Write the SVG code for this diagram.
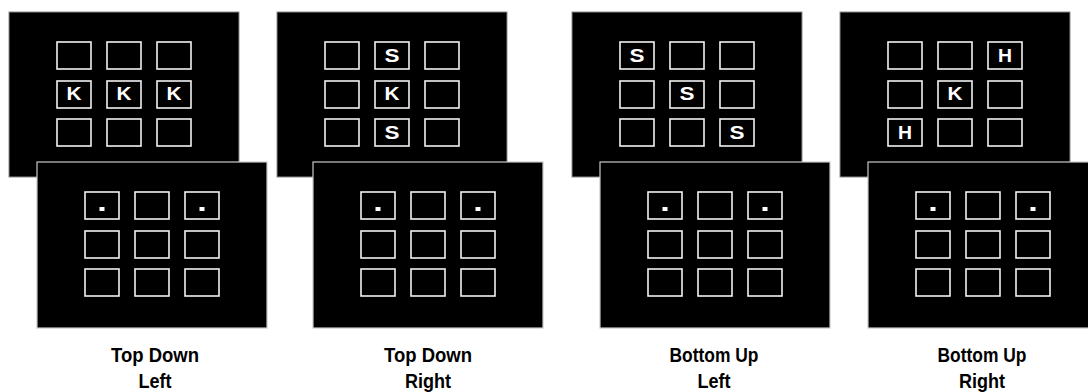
<svg xmlns="http://www.w3.org/2000/svg" xmlns:xlink="http://www.w3.org/1999/xlink" width="1088" height="392" viewBox="0 0 1088 392">
<style>
.top{fill:#000;stroke:#8a8a8a;stroke-width:1}
.bot{fill:#000;stroke:#c8c8c8;stroke-width:1.2}
.box{fill:#000;stroke:#f2f2f2;stroke-width:1.6}
.dot{fill:#fff}
.let{fill:#fff;font-family:"Liberation Sans",Arial,sans-serif;font-weight:bold;font-size:18px;text-anchor:middle}
.lab{fill:#000;font-family:"Liberation Sans",Arial,sans-serif;font-weight:bold;font-size:21px;text-anchor:middle}
</style>
<defs>
<g id="grid">
<rect class="box" x="48" y="30" width="34" height="27"/>
<rect class="box" x="98" y="30" width="34" height="27"/>
<rect class="box" x="148" y="30" width="34" height="27"/>
<rect class="box" x="48" y="69" width="34" height="27"/>
<rect class="box" x="98" y="69" width="34" height="27"/>
<rect class="box" x="148" y="69" width="34" height="27"/>
<rect class="box" x="48" y="107" width="34" height="27"/>
<rect class="box" x="98" y="107" width="34" height="27"/>
<rect class="box" x="148" y="107" width="34" height="27"/>
</g>
<g id="dots">
<rect class="dot" x="62.5" y="45" width="5" height="4"/>
<rect class="dot" x="162.5" y="45" width="5" height="4"/>
</g>
</defs>
<rect width="1088" height="392" fill="#fff"/>

<g id="td-left-target">
<rect class="top" x="9" y="12" width="230" height="165"/>
<use xlink:href="#grid" transform="translate(9,12)"/>
<text class="let" x="74" y="100" textLength="15" lengthAdjust="spacingAndGlyphs">K</text>
<text class="let" x="124" y="100" textLength="15" lengthAdjust="spacingAndGlyphs">K</text>
<text class="let" x="174" y="100" textLength="15" lengthAdjust="spacingAndGlyphs">K</text>
</g>
<g id="td-right-target">
<rect class="top" x="277" y="12" width="230" height="165"/>
<use xlink:href="#grid" transform="translate(277,12)"/>
<text class="let" x="392" y="61.5" textLength="15" lengthAdjust="spacingAndGlyphs">S</text>
<text class="let" x="392" y="100" textLength="15" lengthAdjust="spacingAndGlyphs">K</text>
<text class="let" x="392" y="138.5" textLength="15" lengthAdjust="spacingAndGlyphs">S</text>
</g>
<g id="bu-left-target">
<rect class="top" x="572" y="12" width="230" height="165"/>
<use xlink:href="#grid" transform="translate(572,12)"/>
<text class="let" x="637" y="61.5" textLength="15" lengthAdjust="spacingAndGlyphs">S</text>
<text class="let" x="687" y="100" textLength="15" lengthAdjust="spacingAndGlyphs">S</text>
<text class="let" x="737" y="138.5" textLength="15" lengthAdjust="spacingAndGlyphs">S</text>
</g>
<g id="bu-right-target">
<rect class="top" x="840" y="12" width="230" height="165"/>
<use xlink:href="#grid" transform="translate(840,12)"/>
<text class="let" x="1005" y="61.5" textLength="14" lengthAdjust="spacingAndGlyphs">H</text>
<text class="let" x="955" y="100" textLength="15" lengthAdjust="spacingAndGlyphs">K</text>
<text class="let" x="905" y="138.5" textLength="14" lengthAdjust="spacingAndGlyphs">H</text>
</g>

<g id="td-left-probe">
<rect class="bot" x="37" y="162" width="230" height="166"/>
<use xlink:href="#grid" transform="translate(37,162)"/>
<use xlink:href="#dots" transform="translate(37,162)"/>
</g>
<g id="td-right-probe">
<rect class="bot" x="313" y="162" width="230" height="166"/>
<use xlink:href="#grid" transform="translate(313,162)"/>
<use xlink:href="#dots" transform="translate(313,162)"/>
</g>
<g id="bu-left-probe">
<rect class="bot" x="600" y="162" width="230" height="166"/>
<use xlink:href="#grid" transform="translate(600,162)"/>
<use xlink:href="#dots" transform="translate(600,162)"/>
</g>
<g id="bu-right-probe">
<rect class="bot" x="868" y="162" width="230" height="166"/>
<use xlink:href="#grid" transform="translate(868,162)"/>
<use xlink:href="#dots" transform="translate(868,162)"/>
</g>

<g id="labels">
<text class="lab" x="155" y="362" textLength="88" lengthAdjust="spacingAndGlyphs">Top Down</text>
<text class="lab" x="155" y="388" textLength="33" lengthAdjust="spacingAndGlyphs">Left</text>
<text class="lab" x="428" y="362" textLength="88" lengthAdjust="spacingAndGlyphs">Top Down</text>
<text class="lab" x="428" y="388" textLength="46" lengthAdjust="spacingAndGlyphs">Right</text>
<text class="lab" x="714" y="362" textLength="89" lengthAdjust="spacingAndGlyphs">Bottom Up</text>
<text class="lab" x="714" y="388" textLength="33" lengthAdjust="spacingAndGlyphs">Left</text>
<text class="lab" x="982" y="362" textLength="89" lengthAdjust="spacingAndGlyphs">Bottom Up</text>
<text class="lab" x="982" y="388" textLength="46" lengthAdjust="spacingAndGlyphs">Right</text>
</g>
<g id="connectors"/>
</svg>
